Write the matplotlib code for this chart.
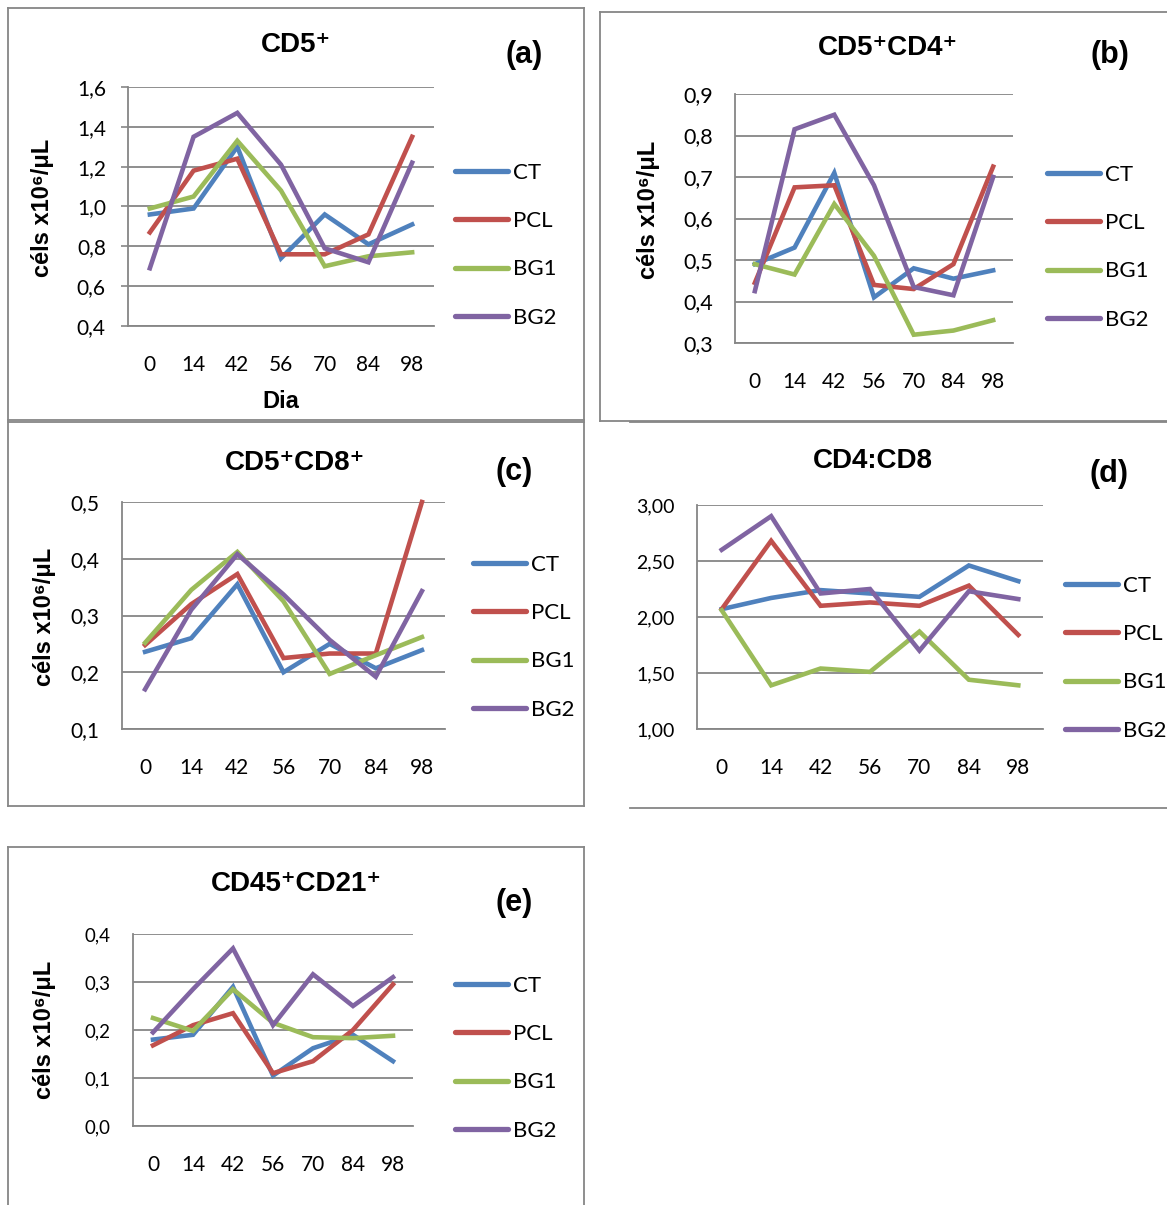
import matplotlib
matplotlib.use("Agg")
import matplotlib.pyplot as plt
from matplotlib.lines import Line2D

W, H = 1167, 1205
days = ["0", "14", "42", "56", "70", "84", "98"]
groups = ["CT", "PCL", "BG1", "BG2"]
colors = ["#4F81BD", "#C0504D", "#9BBB59", "#8064A2"]

# (a) CD5+
a_CT  = [0.96, 0.99, 1.30, 0.74, 0.96, 0.81, 0.91]
a_PCL = [0.87, 1.18, 1.24, 0.76, 0.76, 0.86, 1.35]
a_BG1 = [0.99, 1.05, 1.33, 1.08, 0.70, 0.75, 0.77]
a_BG2 = [0.69, 1.35, 1.47, 1.21, 0.79, 0.72, 1.22]
a_ticks = ["0,4", "0,6", "0,8", "1,0", "1,2", "1,4", "1,6"]

# (b) CD5+CD4+
b_CT  = [0.49, 0.53, 0.71, 0.41, 0.48, 0.455, 0.475]
b_PCL = [0.445, 0.675, 0.68, 0.44, 0.43, 0.49, 0.725]
b_BG1 = [0.49, 0.465, 0.635, 0.51, 0.32, 0.33, 0.355]
b_BG2 = [0.425, 0.815, 0.85, 0.68, 0.435, 0.415, 0.70]
b_ticks = ["0,3", "0,4", "0,5", "0,6", "0,7", "0,8", "0,9"]

# (c) CD5+CD8+
c_CT  = [0.236, 0.26, 0.355, 0.20, 0.25, 0.207, 0.239]
c_PCL = [0.248, 0.32, 0.373, 0.225, 0.233, 0.233, 0.50]
c_BG1 = [0.252, 0.345, 0.412, 0.325, 0.197, 0.23, 0.262]
c_BG2 = [0.17, 0.31, 0.408, 0.337, 0.257, 0.192, 0.343]
c_ticks = ["0,1", "0,2", "0,3", "0,4", "0,5"]

# (d) CD4:CD8
d_CT  = [2.07, 2.17, 2.24, 2.21, 2.18, 2.46, 2.32]
d_PCL = [2.07, 2.68, 2.10, 2.13, 2.10, 2.28, 1.84]
d_BG1 = [2.06, 1.39, 1.54, 1.51, 1.87, 1.44, 1.39]
d_BG2 = [2.60, 2.90, 2.21, 2.25, 1.70, 2.23, 2.16]
d_ticks = ["1,00", "1,50", "2,00", "2,50", "3,00"]

# (e) CD45+CD21+
e_CT  = [0.18, 0.19, 0.29, 0.105, 0.162, 0.19, 0.135]
e_PCL = [0.168, 0.21, 0.235, 0.11, 0.135, 0.20, 0.295]
e_BG1 = [0.225, 0.198, 0.285, 0.215, 0.185, 0.183, 0.188]
e_BG2 = [0.195, 0.285, 0.37, 0.21, 0.316, 0.25, 0.31]
e_ticks = ["0,0", "0,1", "0,2", "0,3", "0,4"]

GRID = "#868686"
TICKFONT = "Lato"
BOLDFONT = ["Liberation Sans", "DejaVu Sans"]

fig = plt.figure(figsize=(W / 100, H / 100), dpi=100)
fig.patch.set_facecolor("white")


def fx(x):
    return x / W


def fy(y):
    return 1 - y / H


def box(x0, y0, x1, y1, sides="lrtb"):
    kw = dict(color=GRID, lw=1.3, transform=fig.transFigure, clip_on=False)
    if "l" in sides:
        fig.add_artist(Line2D([fx(x0), fx(x0)], [fy(y0), fy(y1)], **kw))
    if "r" in sides:
        fig.add_artist(Line2D([fx(x1), fx(x1)], [fy(y0), fy(y1)], **kw))
    if "t" in sides:
        fig.add_artist(Line2D([fx(x0), fx(x1)], [fy(y0), fy(y0)], **kw))
    if "b" in sides:
        fig.add_artist(Line2D([fx(x0), fx(x1)], [fy(y1), fy(y1)], **kw))


def panel(left, right, top, bottom, series, ticks, ymin, ymax, step,
          tfs=15, ticklen=0, leg_x=0, leg_y=0):
    ax = fig.add_axes([fx(left), fy(bottom), fx(right) - fx(left), (bottom - top) / H])
    x = list(range(len(days)))
    for s, c, g in zip(series, colors, groups):
        ax.plot(x, s, color=c, lw=3.3, label=g, solid_joinstyle="miter",
                clip_on=False, zorder=3)
    ax.set_xlim(-0.5, len(days) - 0.5)
    ax.set_ylim(ymin, ymax)
    yv = [ymin + i * step for i in range(len(ticks))]
    ax.set_yticks(yv)
    ax.set_yticklabels(ticks, fontfamily=TICKFONT, fontsize=tfs)
    ax.set_xticks(x)
    ax.set_xticklabels(days, fontfamily=TICKFONT, fontsize=15)
    ax.tick_params(axis="x", length=0, pad=21)
    ax.tick_params(axis="y", length=ticklen, width=1.2, color=GRID,
                   pad=11 if ticklen else 16)
    ax.grid(axis="y", color=GRID, lw=1.3)
    ax.set_axisbelow(True)
    for sp in ["top", "right"]:
        ax.spines[sp].set_visible(False)
    ax.spines["left"].set_color(GRID)
    ax.spines["left"].set_linewidth(1.3)
    ax.spines["bottom"].set_color(GRID)
    ax.spines["bottom"].set_linewidth(1.3)
    leg = ax.legend(loc="upper left",
                    bbox_to_anchor=(fx(leg_x), fy(leg_y)),
                    bbox_transform=fig.transFigure,
                    frameon=False, borderpad=0, borderaxespad=0,
                    handlelength=2.4, handletextpad=0.2, labelspacing=1.27,
                    prop={"family": TICKFONT, "size": 16})
    for h in leg.get_lines():
        h.set_linewidth(3.8)
        h.set_solid_capstyle("round")
    return ax


def title(x, y, s, size=20):
    fig.text(fx(x), fy(y), s, ha="center", va="center", fontsize=size,
             fontweight="bold", family=BOLDFONT)


def ylab(x, y, s="céls x10⁶/μL"):
    fig.text(fx(x), fy(y), s, ha="center", va="center", rotation=90,
             fontsize=17, fontweight="bold", family=BOLDFONT)


# borders
box(8, 8, 584, 420)
box(600, 12, 1175, 421, sides="ltb")
box(8, 422, 584, 806)
box(630, 422, 1175, 808, sides="tb")
box(8, 847, 584, 1215, sides="lrt")

# (a)
panel(128, 434, 87, 326, [a_CT, a_PCL, a_BG1, a_BG2], a_ticks, 0.4, 1.6, 0.2,
      tfs=15, ticklen=5, leg_x=455, leg_y=163)
title(296, 45, "CD5⁺")
title(524, 55, "(a)", 22)
ylab(42, 208)
fig.text(fx(281), fy(402), "Dia", ha="center", va="center", fontsize=17,
         fontweight="bold", family=BOLDFONT)

# (b)
panel(735, 1013, 94, 343, [b_CT, b_PCL, b_BG1, b_BG2], b_ticks, 0.3, 0.9, 0.1,
      tfs=15.5, leg_x=1047, leg_y=165)
title(888, 48, "CD5⁺CD4⁺")
title(1110, 55, "(b)", 22)
ylab(648, 210)

# (c)
panel(122, 445, 502, 729, [c_CT, c_PCL, c_BG1, c_BG2], c_ticks, 0.1, 0.5, 0.1,
      tfs=15, leg_x=473, leg_y=555)
title(295, 463, "CD5⁺CD8⁺")
title(514, 472, "(c)", 22)
ylab(45, 617)

# (d)
panel(697, 1043, 505, 729, [d_CT, d_PCL, d_BG1, d_BG2], d_ticks, 1.0, 3.0, 0.5,
      tfs=14, leg_x=1065, leg_y=576)
title(873, 461, "CD4:CD8")
title(1109, 474, "(d)", 22)

# (e)
panel(133, 413, 934, 1126, [e_CT, e_PCL, e_BG1, e_BG2], e_ticks, 0.0, 0.4, 0.1,
      tfs=13.5, leg_x=455, leg_y=976)
title(296, 884, "CD45⁺CD21⁺")
title(514, 903, "(e)", 22)
ylab(45, 1030)

fig.savefig("out.png", dpi=100)
